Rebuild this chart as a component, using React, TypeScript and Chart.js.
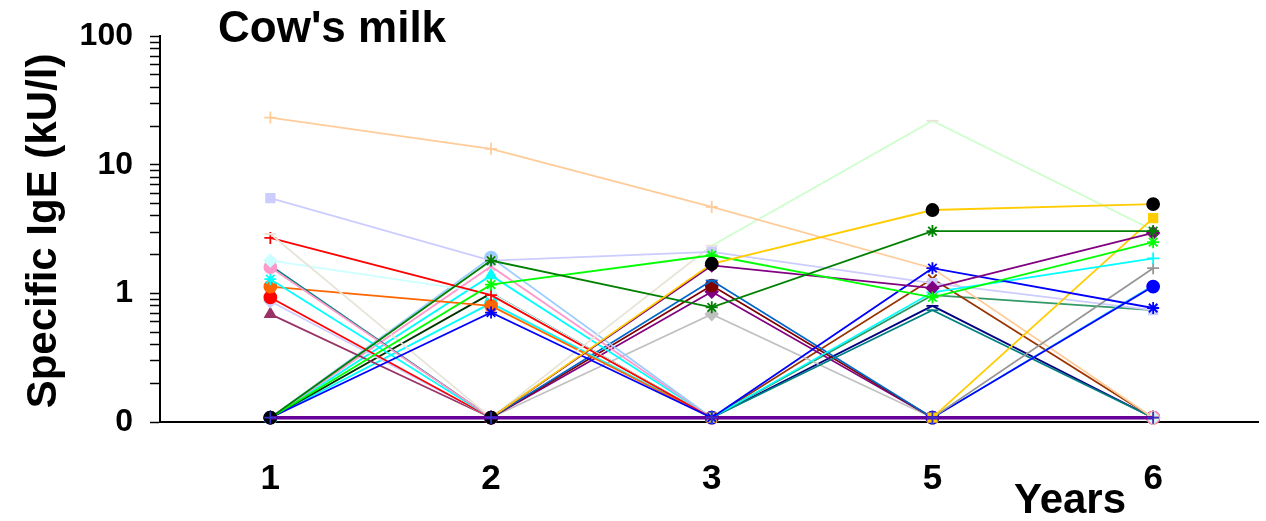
import React, { useEffect, useRef } from 'react';
import { Chart, registerables } from 'chart.js';

Chart.register(...registerables);

const FONT = "'Liberation Sans', Arial, Helvetica, sans-serif";

// Categories (years) and axis tick labels
const years = ['1', '2', '3', '5', '6'];
const yTickValues = [0.1, 0.2, 0.3, 0.4, 0.5, 0.6, 0.7, 0.8, 0.9, 1, 2, 3, 4, 5, 6, 7, 8, 9, 10, 20, 30, 40, 50, 60, 70, 80, 90, 100];
const yTickLabels: Record<string, string> = { '0.1': '0', '1': '1', '10': '10', '100': '100' };
const titleText = "Cow's milk";
const xTitle = 'Years';
const yTitle = 'Specific IgE (kU/l)';

// "0" (undetectable) plotting level
const Z = 0.108;

// Series values for years 1, 2, 3, 5, 6
const sZero = [Z, Z, Z, Z, Z];
const sPeach = [23.3, 13.3, 4.7, 1.57, Z];
const sLavenderSq = [5.5, 1.8, 2.1, 1.2, 0.74];
const sBeige = [2.9, Z, 2.35, 22, 3.1];
const sRedPlus = [2.7, 0.97, Z, Z, Z];
const sLightCyan = [1.8, 1.0, Z, Z, Z];
const sPinkCircle = [1.6, Z, Z, Z, Z];
const sTeal = [1.65, Z, Z, 0.74, Z];
const sCyanStar = [1.29, Z, Z, Z, Z];
const sOrange = [1.13, 0.8, Z, Z, Z];
const sRedCircle = [0.93, Z, Z, Z, Z];
const sLavenderDia = [0.87, Z, Z, Z, Z];
const sPlum = [0.69, Z, Z, Z, Z];
const sLightBlue = [Z, 1.9, Z, Z, Z];
const sDarkGreen = [Z, 1.8, 0.78, 3.05, 3.05];
const sPinkX = [Z, 1.62, Z, Z, Z];
const sCyanTri = [Z, 1.38, Z, Z, Z];
const sGreen = [Z, 1.17, 1.98, 0.93, 2.5];
const sDarkTri = [Z, 1.0, Z, Z, Z];
const sCyan2 = [Z, 0.84, Z, Z, Z];
const sBlueStar = [Z, 0.71, Z, 1.57, 0.77];
const sGold = [Z, Z, 1.7, 4.45, 4.95];
const sPurple = [Z, Z, 1.65, 1.1, 2.95];
const sMidBlue = [Z, Z, 1.26, Z, Z];
const sMaroon = [Z, Z, 1.15, Z, Z];
const sPurple2 = [Z, Z, 1.03, Z, Z];
const sSilver = [Z, Z, 0.69, Z, Z];
const sBrown = [Z, Z, Z, 1.3, Z];
const sCyanPlus = [Z, Z, Z, 1.02, 1.87];
const sSeaGreen = [Z, Z, Z, 0.97, 0.74];
const sNavy = [Z, Z, Z, 0.8, Z];
const sGoldSq = [Z, Z, Z, Z, 3.85];
const sGrayPlus = [Z, Z, Z, Z, 1.57];
const sBlueCircle = [Z, Z, Z, Z, 1.13];
const sSky = [Z, Z, Z, Z, 1.15];

type Series = {
  values: number[];
  line: string;
  point: string;
  style: string;
  width?: number;
  radius?: number;
  line2?: string;
};

// Styles (first entry is drawn on top)
const series: Series[] = [
  { values: sZero, line: '#660099', point: '#3333cc', style: 'cross', width: 3.5, radius: 6 },
  { values: sGold, line: '#ffcc00', point: '#000000', style: 'circle' },
  { values: sDarkGreen, line: '#008000', point: '#008000', style: 'star' },
  { values: sGreen, line: '#00ff00', point: '#00ff00', style: 'star' },
  { values: sPurple, line: '#800080', point: '#800080', style: 'rectRot' },
  { values: sBlueStar, line: '#0000ff', point: '#0000ff', style: 'star' },
  { values: sCyanPlus, line: '#00ffff', point: '#00ffff', style: 'cross' },
  { values: sGoldSq, line: '#ffcc00', point: '#ffcc00', style: 'rect' },
  { values: sGrayPlus, line: '#969696', point: '#969696', style: 'cross' },
  { values: sBlueCircle, line: '#0000ff', point: '#0000ff', style: 'circle' },
  { values: sSky, line: '#33ccff', point: '#33ccff', style: 'circle', radius: 0 },
  { values: sLavenderSq, line: '#ccccff', point: '#ccccff', style: 'rect' },
  { values: sPeach, line: '#ffcc99', point: '#ffcc99', style: 'cross' },
  { values: sBeige, line: '#e8e4d8', point: '#e8e4d8', style: 'line', line2: '#ccffcc' },
  { values: sRedPlus, line: '#ff0000', point: '#ff0000', style: 'cross' },
  { values: sLightCyan, line: '#ccffff', point: '#ccffff', style: 'rectRot' },
  { values: sPinkCircle, line: '#ff99cc', point: '#ff99cc', style: 'circle' },
  { values: sTeal, line: '#008080', point: '#008080', style: 'line' },
  { values: sCyanStar, line: '#00ffff', point: '#00ffff', style: 'star' },
  { values: sOrange, line: '#ff6600', point: '#ff6600', style: 'circle' },
  { values: sRedCircle, line: '#ff0000', point: '#ff0000', style: 'circle' },
  { values: sLavenderDia, line: '#ccccff', point: '#ccccff', style: 'rectRot' },
  { values: sPlum, line: '#993366', point: '#993366', style: 'triangle' },
  { values: sLightBlue, line: '#99ccff', point: '#99ccff', style: 'circle' },
  { values: sPinkX, line: '#ff99cc', point: '#ff99cc', style: 'crossRot' },
  { values: sCyanTri, line: '#00ffff', point: '#00ffff', style: 'triangle' },
  { values: sDarkTri, line: '#003300', point: '#003300', style: 'triangle' },
  { values: sCyan2, line: '#00ffff', point: '#00ffff', style: 'circle' },
  { values: sMidBlue, line: '#0066cc', point: '#0066cc', style: 'line' },
  { values: sMaroon, line: '#800000', point: '#800000', style: 'circle' },
  { values: sPurple2, line: '#800080', point: '#800080', style: 'rectRot' },
  { values: sSilver, line: '#c0c0c0', point: '#c0c0c0', style: 'rectRot' },
  { values: sBrown, line: '#993300', point: '#993300', style: 'crossRot' },
  { values: sSeaGreen, line: '#339966', point: '#339966', style: 'line', radius: 0 },
  { values: sNavy, line: '#000080', point: '#000080', style: 'line' },
];

const textPlugin = {
  id: 'freeTexts',
  afterDraw(chart: any) {
    const ctx = chart.ctx as CanvasRenderingContext2D;
    ctx.save();
    ctx.fillStyle = '#000';
    ctx.textBaseline = 'alphabetic';
    ctx.font = `bold 44px ${FONT}`;
    ctx.textAlign = 'left';
    ctx.fillText(titleText, 218, 42);
    ctx.font = `bold 42px ${FONT}`;
    ctx.textAlign = 'center';
    ctx.fillText(xTitle, 1070, 513);
    ctx.translate(56, 231);
    ctx.rotate(-Math.PI / 2);
    ctx.font = `bold 42px ${FONT}`;
    ctx.fillText(yTitle, 0, 0);
    ctx.restore();
  },
};

export default function App() {
  const ref = useRef<HTMLCanvasElement>(null);

  useEffect(() => {
    if (!ref.current) return;
    const datasets = series.map((s) => ({
      data: s.values.map((v, i) => ({ x: i, y: v })),
      borderColor: s.line,
      borderWidth: s.width ?? 1.8,
      backgroundColor: s.point,
      pointBackgroundColor: s.point,
      pointBorderColor: s.point,
      pointStyle: s.style,
      pointRadius: s.radius ?? 6,
      pointBorderWidth: 1.8,
      tension: 0,
      clip: false as any,
      segment: s.line2
        ? { borderColor: (c: any) => (c.p0DataIndex < 2 ? s.line : s.line2) }
        : undefined,
    }));

    const chart = new Chart(ref.current, {
      type: 'line',
      data: { datasets },
      options: {
        animation: false,
        responsive: false,
        devicePixelRatio: 1,
        layout: { padding: { top: 36, right: 0, bottom: 0, left: 0 } },
        plugins: {
          legend: { display: false },
          tooltip: { enabled: false },
          title: { display: false },
        },
        scales: {
          x: {
            type: 'linear',
            min: -0.5,
            max: 4.476,
            afterBuildTicks: (s: any) => {
              s.ticks = years.map((_, i) => ({ value: i }));
            },
            afterFit: (s: any) => {
              s.height = 99;
            },
            grid: { display: false },
            border: { display: true, color: '#000', width: 2 },
            ticks: {
              autoSkip: false,
              maxRotation: 0,
              padding: 28,
              color: '#000',
              font: { family: FONT, size: 35, weight: 'bold' },
              callback: (v: any) => years[Math.round(Number(v))] ?? '',
            },
          },
          y: {
            type: 'logarithmic',
            min: 0.1,
            max: 100,
            afterBuildTicks: (s: any) => {
              s.ticks = yTickValues.map((v) => ({ value: v, major: yTickLabels[String(v)] !== undefined }));
            },
            afterFit: (s: any) => {
              s.width = 160;
            },
            grid: {
              drawOnChartArea: false,
              drawTicks: true,
              tickLength: 10,
              color: '#000',
              tickWidth: 1.5,
            },
            border: { display: true, color: '#000', width: 2 },
            ticks: {
              autoSkip: false,
              padding: 17,
              color: '#000',
              font: { family: FONT, size: 32, weight: 'bold' },
              callback: (v: any) => yTickLabels[String(v)] ?? '',
            },
          },
        },
      } as any,
      plugins: [textPlugin],
    });
    return () => chart.destroy();
  }, []);

  return (
    <div style={{ position: 'fixed', left: 0, top: 0, width: 1266, height: 521, background: '#fff' }}>
      <canvas ref={ref} width={1266} height={521} style={{ display: 'block' }} />
    </div>
  );
}
